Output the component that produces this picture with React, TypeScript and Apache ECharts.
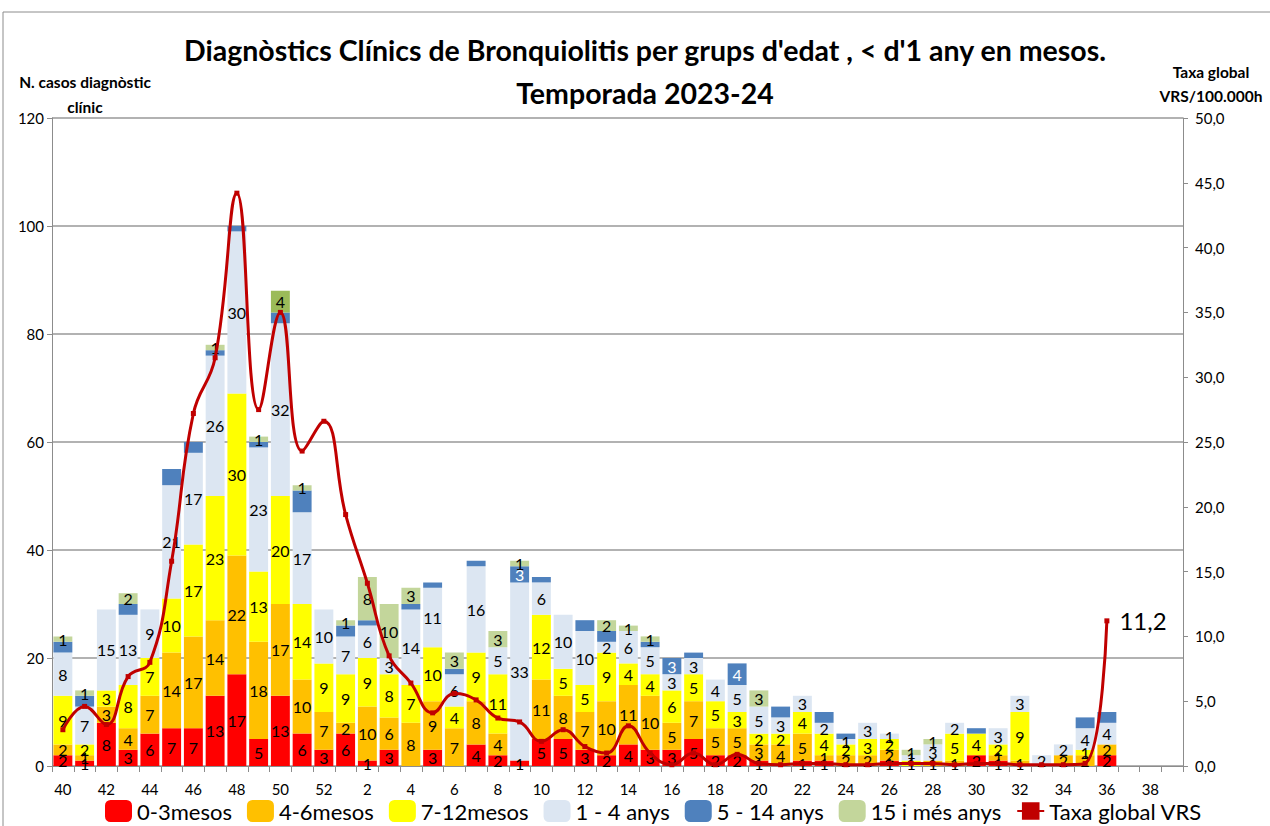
import React, { useEffect, useRef } from 'react';
import * as echarts from 'echarts';

const weeks = [
  '40', '41', '42', '43', '44', '45', '46', '47', '48', '49', '50', '51', '52',
  '1', '2', '3', '4', '5', '6', '7', '8', '9', '10', '11', '12', '13', '14', '15',
  '16', '17', '18', '19', '20', '21', '22', '23', '24', '25', '26', '27', '28', '29',
  '30', '31', '32', '33', '34', '35', '36', '37', '38', '39',
];

const seriesNames = ['0-3mesos', '4-6mesos', '7-12mesos', '1 - 4 anys', '5 - 14 anys', '15 i més anys'];
const lineName = 'Taxa global VRS';

// weeks 40..52, 1..39
const mesos0_3 = [2, 1, 8, 3, 6, 7, 7, 13, 17, 5, 13, 6, 3,
  6, 1, 3, 0, 3, 0, 4, 2, 1, 5, 5, 3, 2, 4, 3, 3, 5, 2, 2, 1, 0, 1, 1, 0, 0, 1, 0, 0, 0, 2, 1, 0, 0, 0, 0, 2, null, null, null];
const mesos4_6 = [2, 1, 3, 4, 7, 14, 17, 14, 22, 18, 17, 10, 7,
  2, 10, 6, 8, 9, 7, 8, 4, 0, 11, 8, 7, 10, 11, 10, 5, 7, 5, 5, 3, 4, 5, 1, 2, 2, 2, 0, 1, 1, 0, 1, 1, 0, 2, 2, 2, null, null, null];
const mesos7_12 = [9, 2, 3, 8, 7, 10, 17, 23, 30, 13, 20, 14, 9,
  9, 9, 8, 7, 10, 4, 9, 11, 0, 12, 5, 5, 9, 4, 4, 6, 5, 5, 3, 2, 2, 4, 4, 2, 3, 2, 1, 0, 5, 4, 2, 9, 0, 0, 1, 0, null, null, null];
const anys1_4 = [8, 7, 15, 13, 9, 21, 17, 26, 30, 23, 32, 17, 10,
  7, 6, 3, 14, 11, 6, 16, 5, 33, 6, 10, 10, 2, 6, 5, 3, 3, 4, 5, 5, 3, 3, 2, 1, 3, 1, 1, 3, 2, 0, 3, 3, 2, 2, 4, 4, null, null, null];
const anys5_14 = [2, 2, 0, 2, 0, 3, 2, 1, 1, 1, 2, 4, 0,
  2, 1, 0, 1, 1, 1, 1, 0, 3, 1, 0, 2, 2, 0, 1, 3, 1, 0, 4, 0, 2, 0, 2, 1, 0, 0, 0, 0, 0, 1, 0, 0, 0, 0, 2, 2, null, null, null];
const anys15mes = [1, 1, 0, 2, 0, 0, 0, 1, 0, 1, 4, 1, 0,
  1, 8, 10, 3, 0, 3, 0, 3, 1, 0, 0, 0, 2, 1, 1, 0, 0, 0, 0, 3, 0, 0, 0, 0, 0, 0, 1, 1, 0, 0, 0, 0, 0, 0, 0, 0, null, null, null];
const taxaVRS = [2.8, 4.6, 3.2, 6.9, 8.0, 15.8, 27.2, 31.5, 44.2, 27.5, 35.0, 24.3, 26.6,
  19.4, 14.1, 8.5, 6.4, 4.1, 5.6, 5.1, 3.7, 3.4, 1.9, 2.8, 1.5, 1.0, 3.1, 1.0, 0.1, 1.0, 0.1, 0.9, 0.2, 0.1, 0.2, 0.2, 0.1, 0.1, 0.2, 0.2, 0.2, 0.1, 0.2, 0.2, 0.1, 0.1, 0.1, 0.2, 11.2, null, null, null];

const leftTicks = [0, 20, 40, 60, 80, 100, 120];
const rightTicks = [0, 5, 10, 15, 20, 25, 30, 35, 40, 45, 50];

const blueLabelWeeks = ['9', '16', '19'];
const darkGreenWeeks = ['50'];

const colors = ['#FF0000', '#FFC000', '#FFFF00', '#DCE6F2', '#4F81BD', '#C3D69B'];
const FONT = 'Lato';

const comma = (v: number) => v.toFixed(1).replace('.', ',');

function buildOption() {
  const stacks = [mesos0_3, mesos4_6, mesos7_12, anys1_4, anys5_14, anys15mes];
  const barSeries = stacks.map((arr, si) => ({
    type: 'bar',
    name: seriesNames[si],
    stack: 'casos',
    barCategoryGap: '13%',
    itemStyle: { color: colors[si] },
    label: {
      show: si !== 4,
      position: 'inside',
      color: '#000',
      fontSize: 16,
      fontFamily: FONT,
      formatter: (p: any) => (p.value ? String(p.value) : ''),
    },
    data: arr.map((v, i) => {
      const item: any = { value: v };
      if (si === 4 && blueLabelWeeks.includes(weeks[i])) {
        item.label = { show: true, color: '#fff' };
      }
      if (si === 5 && darkGreenWeeks.includes(weeks[i])) {
        item.itemStyle = { color: '#9BBB59' };
      }
      return item;
    }),
  }));

  let lastIdx = 0;
  taxaVRS.forEach((v, i) => { if (v !== null) lastIdx = i; });

  const lineSeries = {
    type: 'line',
    name: lineName,
    yAxisIndex: 1,
    smooth: 0.45,
    symbol: 'rect',
    symbolSize: 5,
    showAllSymbol: true,
    z: 5,
    lineStyle: { color: '#C00000', width: 3 },
    itemStyle: { color: '#C00000' },
    data: taxaVRS.map((v, i) => {
      if (i === lastIdx) {
        return {
          value: v,
          label: {
            show: true,
            position: 'right',
            distance: 10,
            color: '#000',
            fontSize: 24,
            fontFamily: FONT,
            formatter: (p: any) => comma(p.value),
          },
        };
      }
      return v;
    }),
  };

  const titleFont = `bold 28.5px ${FONT}`;
  const nameFont = `bold 15.5px ${FONT}`;

  return {
    animation: false,
    backgroundColor: '#fff',
    textStyle: { fontFamily: FONT },
    grid: { left: 52, right: 87, top: 118, bottom: 60, containLabel: false },
    graphic: [
      { type: 'rect', shape: { x: 3, y: 12, width: 1400, height: 1000 }, style: { fill: 'none', stroke: '#8c8c8c', lineWidth: 1 }, silent: true, z: -10 },
      { type: 'text', x: 645, y: 50, style: { text: "Diagnòstics Clínics de Bronquiolitis per grups d'edat , < d'1 any en mesos.", font: titleFont, fill: '#000', align: 'center', verticalAlign: 'middle' } },
      { type: 'text', x: 645, y: 93, style: { text: 'Temporada 2023-24', font: titleFont, fill: '#000', align: 'center', verticalAlign: 'middle' } },
      { type: 'text', x: 85, y: 82, style: { text: 'N. casos diagnòstic', font: nameFont, fill: '#000', align: 'center', verticalAlign: 'middle' } },
      { type: 'text', x: 85, y: 107, style: { text: 'clínic', font: nameFont, fill: '#000', align: 'center', verticalAlign: 'middle' } },
      { type: 'text', x: 1211, y: 72, style: { text: 'Taxa global', font: nameFont, fill: '#000', align: 'center', verticalAlign: 'middle' } },
      { type: 'text', x: 1211, y: 96, style: { text: 'VRS/100.000h', font: nameFont, fill: '#000', align: 'center', verticalAlign: 'middle' } },
    ],
    legend: {
      left: 100,
      top: 795,
      itemWidth: 27,
      itemHeight: 22,
      itemGap: 15,
      textStyle: { fontSize: 22, fontFamily: FONT, color: '#000' },
      data: [...seriesNames, lineName],
    },
    xAxis: {
      type: 'category',
      data: weeks,
      boundaryGap: true,
      axisLine: { lineStyle: { color: '#8c8c8c' } },
      axisTick: { show: true, interval: 0, length: 6, lineStyle: { color: '#8c8c8c' } },
      axisLabel: { interval: 1, fontSize: 15, fontFamily: FONT, color: '#000', margin: 15 },
    },
    yAxis: [
      {
        type: 'value',
        min: leftTicks[0],
        max: leftTicks[leftTicks.length - 1],
        interval: leftTicks[1] - leftTicks[0],
        axisLine: { show: true, lineStyle: { color: '#8c8c8c' } },
        axisTick: { show: true, length: 5, lineStyle: { color: '#8c8c8c' } },
        axisLabel: { fontSize: 15, fontFamily: FONT, color: '#000', margin: 8 },
        splitLine: { show: true, lineStyle: { color: '#999', width: 1.5 } },
      },
      {
        type: 'value',
        min: rightTicks[0],
        max: rightTicks[rightTicks.length - 1],
        interval: rightTicks[1] - rightTicks[0],
        axisLine: { show: true, lineStyle: { color: '#8c8c8c' } },
        axisTick: { show: true, length: 5, lineStyle: { color: '#8c8c8c' } },
        axisLabel: { fontSize: 15, fontFamily: FONT, color: '#000', margin: 12, formatter: (v: number) => comma(v) },
        splitLine: { show: false },
      },
    ],
    series: [...barSeries, lineSeries],
  };
}

export default function App() {
  const ref = useRef<HTMLDivElement>(null);
  useEffect(() => {
    if (!ref.current) return;
    const chart = echarts.init(ref.current, null, { renderer: 'svg' });
    chart.setOption(buildOption() as any);
    return () => chart.dispose();
  }, []);
  return (
    <div
      ref={ref}
      style={{ position: 'absolute', left: 0, top: 0, width: 1270, height: 826, background: '#fff' }}
    />
  );
}
